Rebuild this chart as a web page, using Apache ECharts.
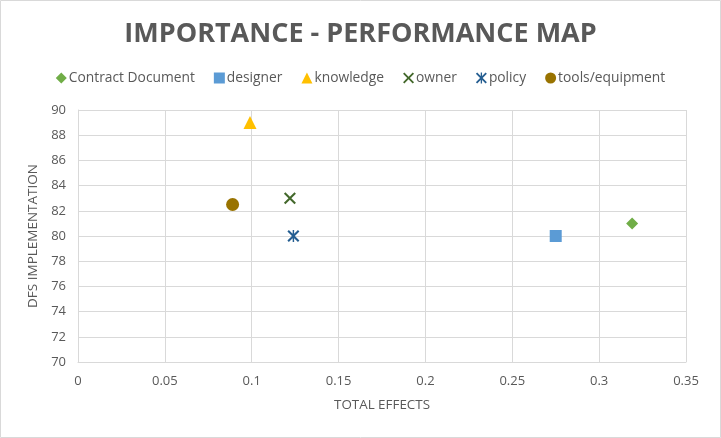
<!DOCTYPE html>
<html><head><meta charset="utf-8">
<script src="https://cdn.jsdelivr.net/npm/echarts@6/dist/echarts.min.js"></script>
<style>html,body{margin:0;padding:0;background:#fff}#c{width:721px;height:438px}</style>
</head><body><div id="c"></div>
<script>
const seriesNames = ['Contract Document','designer','knowledge','owner','policy','tools/equipment'];
const totalEffects = [0.319, 0.275, 0.099, 0.122, 0.124, 0.089];
const dfsImplementation = [81, 80, 89, 83, 80, 82.5];
const xTicks = [0, 0.05, 0.1, 0.15, 0.2, 0.25, 0.3, 0.35];
const yTicks = [70, 72, 74, 76, 78, 80, 82, 84, 86, 88, 90];

const colors = ['#70AD47','#5B9BD5','#FFC000','#43682B','#255E91','#997300'];
const xPath = 'path://M0,1.2L1.2,0L5,3.8L8.8,0L10,1.2L6.2,5L10,8.8L8.8,10L5,6.2L1.2,10L0,8.8L3.8,5Z';
const starPath = 'path://M0,1.2L1.2,0L5,3.8L8.8,0L10,1.2L6.2,5L10,8.8L8.8,10L5,6.2L1.2,10L0,8.8L3.8,5Z M4.4,0L5.6,0L5.6,10L4.4,10Z';
const symbols = ['diamond','rect','triangle',xPath,starPath,'circle'];
const sizes = [12,12,13,12,12,13];

const chart = echarts.init(document.getElementById('c'));
const series = seriesNames.map((n,i)=>({
  name:n, type:'scatter', symbol:symbols[i], symbolSize:sizes[i],
  itemStyle:{color:colors[i], opacity:1},
  data:[[totalEffects[i], dfsImplementation[i]]]
}));
chart.setOption({
  animation:false,
  textStyle:{fontFamily:'Open Sans'},
  title:{text:'IMPORTANCE - PERFORMANCE MAP', left:'center', top:16,
    textStyle:{fontFamily:'Open Sans', fontWeight:'bold', fontSize:27, color:'#595959'}},
  legend:{top:66, left:'center', itemWidth:11, itemHeight:11, itemGap:19,
    textStyle:{color:'#595959', fontSize:13.8, fontFamily:'Open Sans', padding:[0,0,0,-3]},
    data:seriesNames},
  grid:{left:78, right:35, top:110, bottom:76},
  xAxis:{type:'value', min:0, max:0.35, interval:0.05, name:'TOTAL EFFECTS',
    nameLocation:'middle', nameGap:37, nameTextStyle:{color:'#595959', fontSize:13.4},
    axisLine:{lineStyle:{color:'#d9d9d9'}}, axisTick:{show:false},
    axisLabel:{color:'#595959', fontSize:13, margin:13, formatter:v=>String(+v.toFixed(2))},
    splitLine:{show:true, lineStyle:{color:'#d9d9d9'}}},
  yAxis:{type:'value', min:70, max:90, interval:2, name:'DFS IMPLEMENTATION',
    nameLocation:'middle', nameGap:38, nameTextStyle:{color:'#595959', fontSize:13.5},
    axisLine:{show:true, lineStyle:{color:'#d9d9d9'}}, axisTick:{show:false},
    axisLabel:{color:'#595959', fontSize:13, margin:12},
    splitLine:{show:true, lineStyle:{color:'#d9d9d9'}}},
  graphic:[{type:'rect', shape:{x:0.5,y:0.5,width:720,height:437}, style:{fill:'none', stroke:'#d9d9d9', lineWidth:1}, silent:true}],
  series
});
</script></body></html>
